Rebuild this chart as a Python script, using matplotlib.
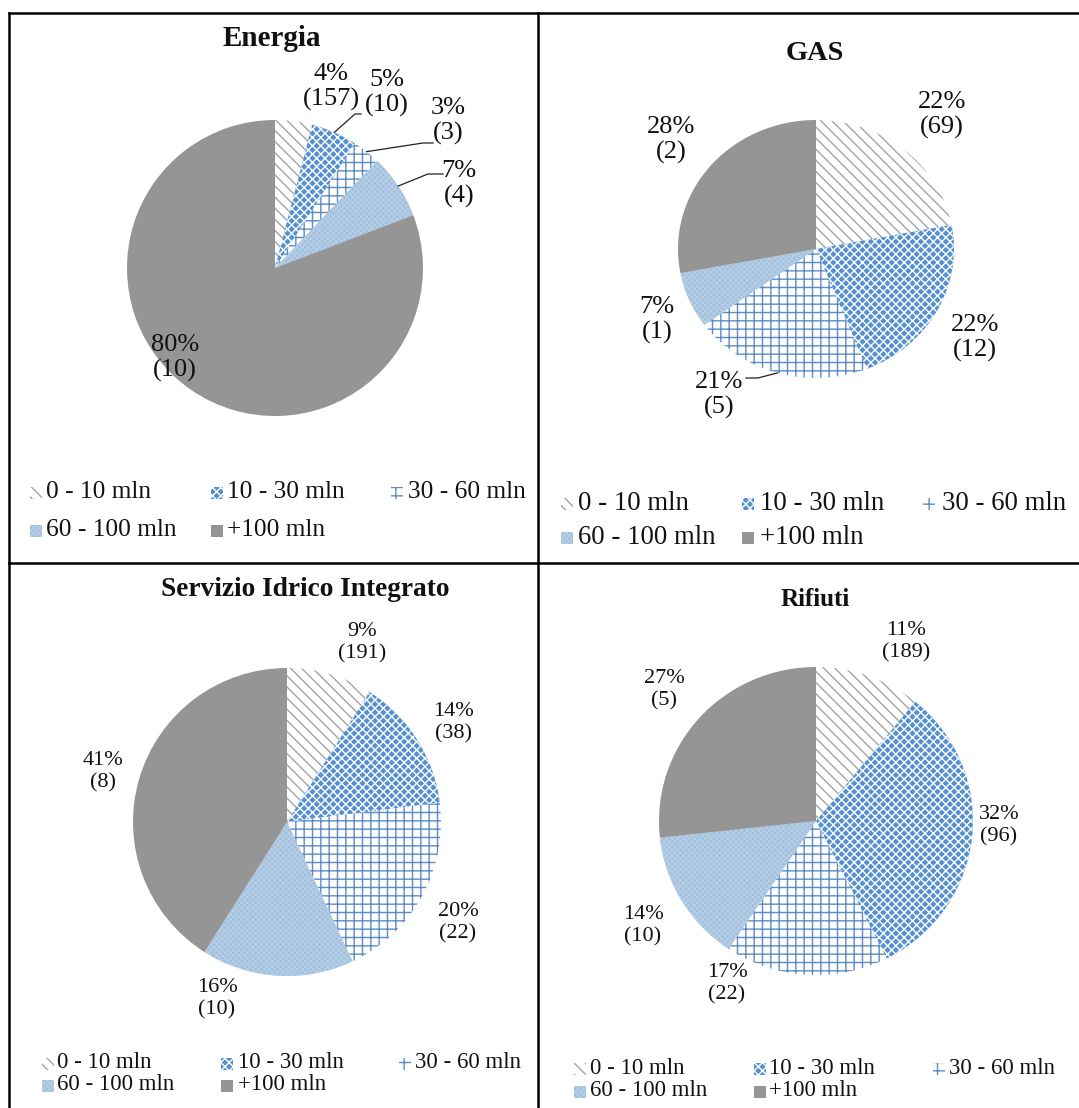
import numpy as np
import matplotlib
matplotlib.use("Agg")
import matplotlib.pyplot as plt
from matplotlib.patches import Rectangle

plt.rcParams['font.family'] = ['Liberation Serif', 'DejaVu Serif']
plt.rcParams['hatch.linewidth'] = 1.0

W, H = 1079, 1108

# data
categories = ["0 - 10 mln", "10 - 30 mln", "30 - 60 mln", "60 - 100 mln", "+100 mln"]
titles = ["Energia", "GAS", "Servizio Idrico Integrato", "Rifiuti"]
energia_pct = [4, 5, 3, 7, 80]
energia_n = [157, 10, 3, 4, 10]
gas_pct = [22, 22, 21, 7, 28]
gas_n = [69, 12, 5, 1, 2]
sii_pct = [9, 14, 20, 16, 41]
sii_n = [191, 38, 22, 10, 8]
rifiuti_pct = [11, 32, 17, 14, 27]
rifiuti_n = [189, 96, 22, 10, 5]

# fill styles for the five size classes
styles = [
    dict(facecolor='white', edgecolor='#a3a3a3', hatch='\\\\\\'),
    dict(facecolor='#5590d0', edgecolor='white', hatch='xxxx'),
    dict(facecolor='white', edgecolor='#5b8cc4', hatch='++'),
    dict(facecolor='#9fbfdd', edgecolor='#b6cee5', hatch='xxxxxx'),
    dict(facecolor='#959595', edgecolor='#959595', hatch=None),
]

# layout of each panel, in pixels of the final picture
panels = [
    dict(pct=energia_pct, n=energia_n, title=titles[0],
         center=(275, 268), rx=148, ry=148,
         title_pos=(272, 39), title_fs=21, label_fs=19,
         labels=[(331, 87), (387, 93), (448, 121), (459, 184), (175, 358)],
         leaders={1: [(361, 114), (355, 114)], 2: [(433, 143), (423, 143)],
                  3: [(443, 174), (428, 174)]},
         legend_rows=(492, 530), legend_fs=18.3,
         marker_x=(30, 211, 391), text_x=(46, 227, 408)),
    dict(pct=gas_pct, n=gas_n, title=titles[1],
         center=(816, 249), rx=138, ry=129,
         title_pos=(815, 54), title_fs=20.4, label_fs=19,
         labels=[(942, 115), (975, 338), (719, 395), (657, 320), (671, 140)],
         leaders={2: [(746, 378), (758, 378)]},
         legend_rows=(503, 537), legend_fs=19.3,
         marker_x=(561, 742, 923), text_x=(578, 760, 942)),
    dict(pct=sii_pct, n=sii_n, title=titles[2],
         center=(287, 822), rx=154, ry=154,
         title_pos=(305, 590), title_fs=19.7, label_fs=16,
         labels=[(362, 643), (453, 723), (458, 923), (217, 999), (103, 772)],
         leaders={},
         legend_rows=(1063, 1085), legend_fs=16.5,
         marker_x=(42, 221, 399), text_x=(57, 238, 415)),
    dict(pct=rifiuti_pct, n=rifiuti_n, title=titles[3],
         center=(816, 821), rx=157, ry=154,
         title_pos=(815, 600), title_fs=18, label_fs=16,
         labels=[(906, 642), (999, 826), (727, 984), (643, 926), (664, 690)],
         leaders={},
         legend_rows=(1068, 1091), legend_fs=16.5,
         marker_x=(574, 754, 933), text_x=(590, 769, 949)),
]

fig = plt.figure(figsize=(W / 100, H / 100), dpi=100)
fig.patch.set_facecolor('white')

# overlay in pixel coordinates for frames, titles, labels and legends
ov = fig.add_axes([0, 0, 1, 1])
ov.set_xlim(0, W)
ov.set_ylim(H, 0)
ov.axis('off')
ov.set_zorder(5)
ov.patch.set_alpha(0)

frame_kw = dict(color='black', lw=1.8, solid_capstyle='projecting')
ov.plot([9, W], [12.5, 12.5], **frame_kw)
ov.plot([9, 9], [12.5, H], **frame_kw)
ov.plot([538, 538], [12.5, H], **frame_kw)
ov.plot([9, W], [563, 563], **frame_kw)

for p in panels:
    cx, cy = p['center']
    rx, ry = p['rx'], p['ry']
    ax = fig.add_axes([(cx - rx) / W, 1 - (cy + ry) / H, 2 * rx / W, 2 * ry / H])
    wedges, _ = ax.pie(p['pct'], startangle=90, counterclock=False, radius=1,
                       wedgeprops=dict(linewidth=0))
    for w, st in zip(wedges, styles):
        w.set_facecolor(st['facecolor'])
        w.set_edgecolor(st['edgecolor'])
        w.set_hatch(st['hatch'])
        w.set_linewidth(0)
    ax.set_xlim(-1, 1)
    ax.set_ylim(-1, 1)
    ax.set_aspect('auto')
    ax.axis('off')

    ov.text(*p['title_pos'], p['title'], ha='center', va='center',
            fontsize=p['title_fs'], fontweight='bold', color='#111111')

    for i, (w, pc, n, pos) in enumerate(zip(wedges, p['pct'], p['n'], p['labels'])):
        ov.text(pos[0], pos[1], f"{pc}%\n({n})", ha='center', va='center',
                fontsize=p['label_fs'], linespacing=1.2, color='#111111')
        if i in p['leaders']:
            mid = np.deg2rad((w.theta1 + w.theta2) / 2)
            ex = cx + rx * np.cos(mid)
            ey = cy - ry * np.sin(mid)
            pts = p['leaders'][i] + [(ex, ey)]
            ov.plot([q[0] for q in pts], [q[1] for q in pts], color='#222222', lw=0.9)

    # legend, three entries on the first row and two on the second
    for i, (cat, st) in enumerate(zip(categories, styles)):
        row, col = (0, i) if i < 3 else (1, i - 3)
        y = p['legend_rows'][row]
        ov.add_patch(Rectangle((p['marker_x'][col], y - 5), 12, 12,
                               facecolor=st['facecolor'], edgecolor=st['edgecolor'],
                               hatch=st['hatch'], linewidth=0))
        ov.text(p['text_x'][col], y, cat, ha='left', va='center',
                fontsize=p['legend_fs'], color='#111111')

fig.savefig("out.png", dpi=100)
